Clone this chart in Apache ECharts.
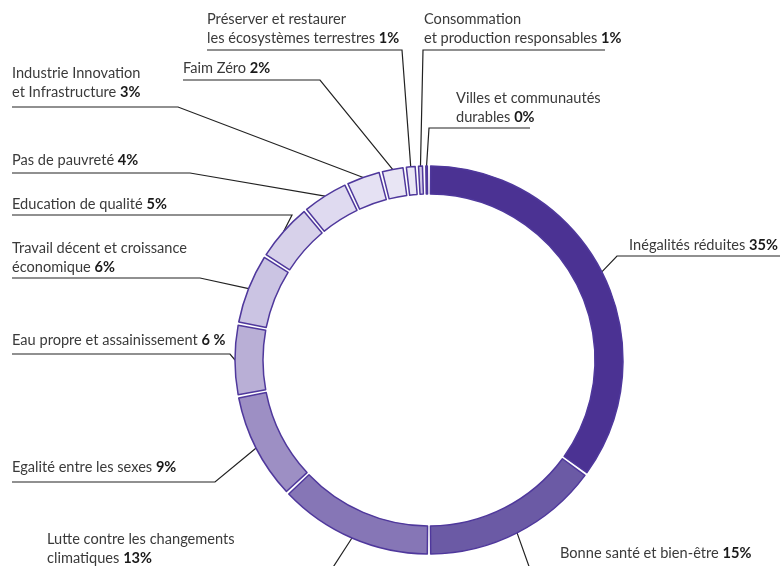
<!DOCTYPE html>
<html>
<head>
<meta charset="utf-8">
<script src="https://cdn.jsdelivr.net/npm/echarts@6/dist/echarts.min.js"></script>
<style>
  html, body { margin: 0; background: #fff; }
  #odd { width: 780px; height: 566px; }
</style>
</head>
<body>
<div id="odd"></div>
<script>
// objectifs, dans l'ordre horaire depuis le haut
var categories = [
  'Inégalités réduites',
  'Bonne santé et bien-être',
  'Lutte contre les changements\nclimatiques',
  'Egalité entre les sexes',
  'Eau propre et assainissement',
  'Travail décent et croissance\néconomique',
  'Education de qualité',
  'Pas de pauvreté',
  'Industrie Innovation\net Infrastructure',
  'Faim Zéro',
  'Préserver et restaurer\nles écosystèmes terrestres',
  'Consommation\net production responsables',
  'Villes et communautés\ndurables'
]
var shares = [35, 15, 13, 9, 6, 6, 5, 4, 3, 2, 1, 0.6, 0.4]
// pourcentages imprimés
var shareLabels = ['35%', '15%', '13%', '9%', '6 %', '6%', '5%', '4%', '3%', '2%', '1%', '1%', '0%']

var colors = ['#4b3293', '#6b5aa5', '#8676b6', '#9d8fc4', '#b9afd6', '#cbc4e3', '#d7d1ea',
  '#dfdaf0', '#e5e1f3', '#e8e5f4', '#e9e6f5', '#cfc7e6', '#cfc7e6']

// placement des étiquettes : tx/ty = texte (centre de la dernière ligne), ly = soulignement,
// ex = coude, fx = bout du trait
var labelPos = [
  { tx: 778, ty: 245, ly: 256, ex: 617, fx: 780, align: 'right' },
  { tx: 560, ty: 553, ly: 572, ex: 531, fx: 780, align: 'left' },
  { tx: 47, ty: 558, ly: 575, ex: 328, fx: 47, align: 'left' },
  { tx: 12, ty: 467, ly: 482, ex: 215, fx: 12, align: 'left' },
  { tx: 12, ty: 340, ly: 354, ex: 230, fx: 12, align: 'left' },
  { tx: 12, ty: 267, ly: 278, ex: 200, fx: 12, align: 'left' },
  { tx: 12, ty: 204, ly: 215, ex: 292, fx: 12, align: 'left' },
  { tx: 12, ty: 160, ly: 173, ex: 190, fx: 12, align: 'left' },
  { tx: 12, ty: 92, ly: 107, ex: 178, fx: 12, align: 'left' },
  { tx: 183, ty: 68, ly: 80, ex: 320, fx: 183, align: 'left' },
  { tx: 207, ty: 38, ly: 50, ex: 402, fx: 207, align: 'left' },
  { tx: 424, ty: 38, ly: 50, ex: 423, fx: 605, align: 'left' },
  { tx: 456, ty: 117, ly: 128, ex: 429, fx: 530, align: 'left' }
]

var chart = echarts.init(document.getElementById('odd'))

var option = {
  animation: false,
  textStyle: { fontFamily: 'Lato' },
  series: [
    {
      type: 'pie',
      center: [429, 360],
      radius: [166, 194],
      startAngle: 90,
      clockwise: true,
      padAngle: 1,
      avoidLabelOverlap: false,
      itemStyle: {
        borderColor: '#4f389c',
        borderWidth: 1.5
      },
      label: {
        show: true,
        position: 'outside',
        lineHeight: 19,
        formatter: function(p) {
          return '{n|' + p.name + ' }{b|' + shareLabels[p.dataIndex] + '}'
        },
        rich: {
          n: { fontFamily: 'Lato', fontSize: 14.6, color: '#3a3a3a', lineHeight: 19 },
          b: { fontFamily: 'Lato', fontSize: 14.6, fontWeight: 'bold', color: '#1a1a1a', lineHeight: 19 }
        }
      },
      labelLine: {
        show: true,
        length: 10,
        length2: 10,
        lineStyle: { color: '#222', width: 1.2 }
      },
      labelLayout: function(p) {
        var L = labelPos[p.dataIndex]
        var start = p.labelLinePoints ? p.labelLinePoints[0] : [L.ex, L.ly]
        return {
          x: L.tx,
          y: L.ty + 9.5,
          align: L.align,
          verticalAlign: 'bottom',
          labelLinePoints: [start, [L.ex, L.ly], [L.fx, L.ly]]
        }
      },
      emphasis: { disabled: true },
      data: categories.map(function(c, i) {
        return { name: c, value: shares[i], itemStyle: { color: colors[i] } }
      })
    }
  ]
}

chart.setOption(option)
</script>
</body>
</html>
